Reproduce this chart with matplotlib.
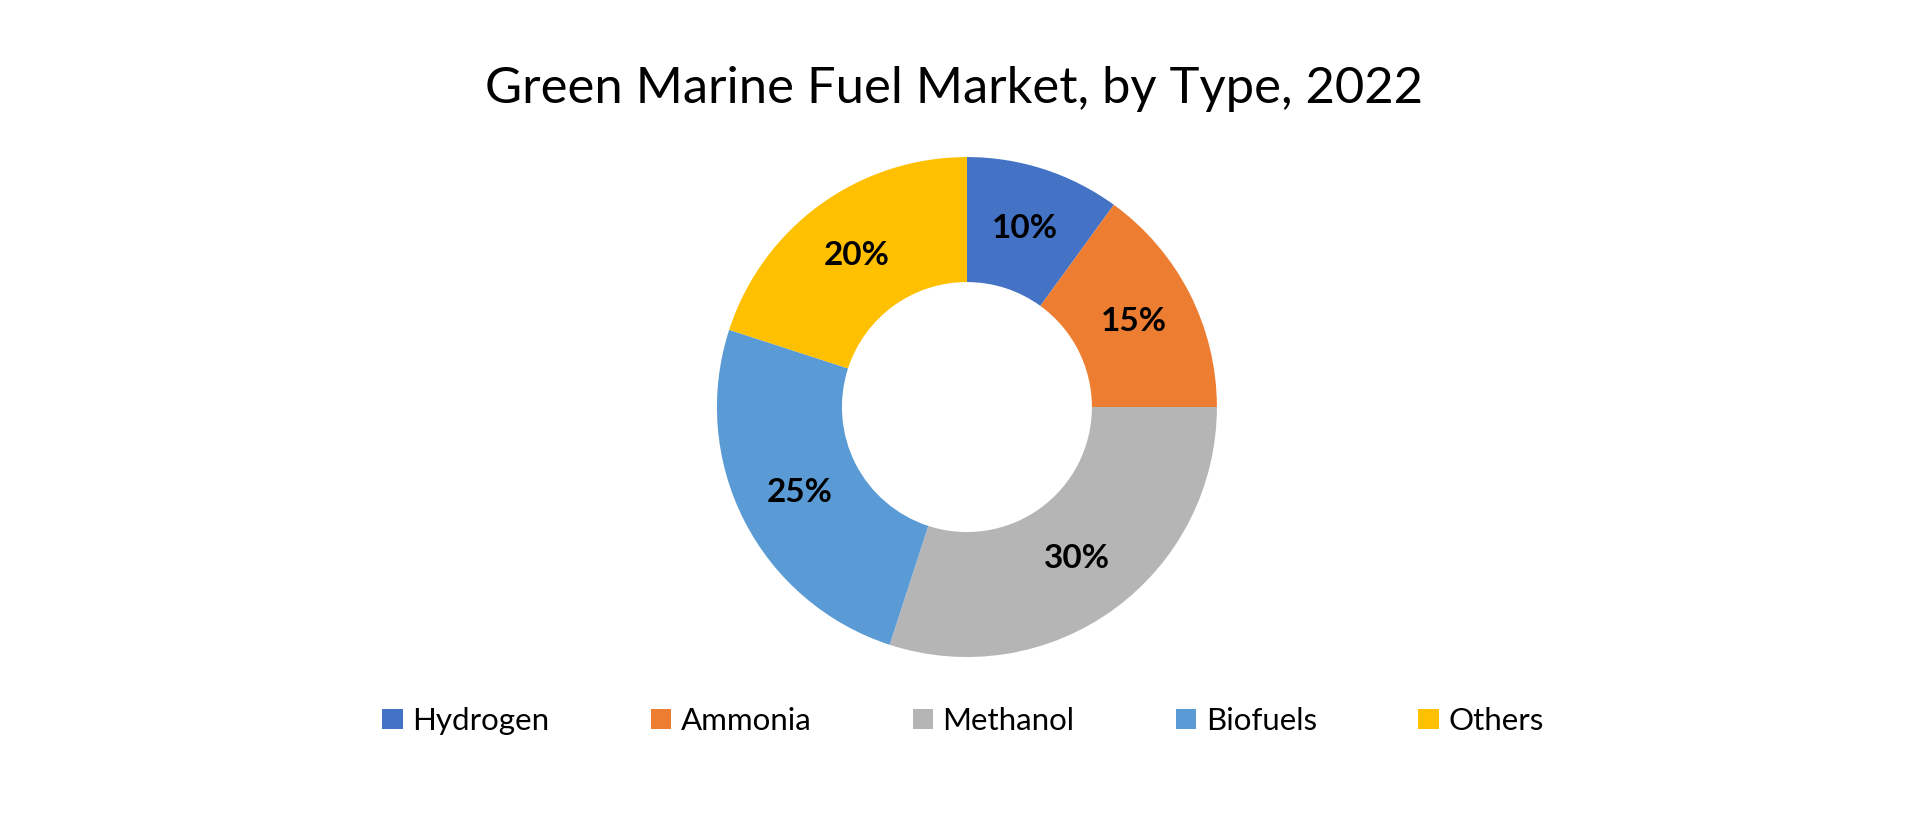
import matplotlib
matplotlib.use('Agg')
import matplotlib.pyplot as plt

types = ['Hydrogen', 'Ammonia', 'Methanol', 'Biofuels', 'Others']
shares = [10, 15, 30, 25, 20]
colors = ['#4472C4', '#ED7D31', '#B5B5B5', '#5B9BD5', '#FFC000']

plt.rcParams['font.family'] = ['Lato', 'DejaVu Sans']

fig = plt.figure(figsize=(19.2, 8.18), dpi=100)
ax = fig.add_axes([0.3734, 0.1968, 0.2604, 0.6112])

wedges, texts, autotexts = ax.pie(
    shares, colors=colors, startangle=90, counterclock=False,
    radius=1.0, autopct='%1.0f%%', pctdistance=0.75,
    wedgeprops=dict(width=0.5, edgecolor='none'),
    textprops=dict(fontsize=24, fontweight='bold', color='black'))
ax.set_xlim(-1, 1)
ax.set_ylim(-1, 1)
ax.set_aspect('equal')
ax.axis('off')

fig.text(0.497, 0.874, 'Green Marine Fuel Market, by Type, 2022',
         ha='center', va='baseline', fontsize=36.5, color='black')

fig.legend(wedges, types, loc='center', bbox_to_anchor=(0.5015, 0.1186),
           ncol=5, frameon=False, fontsize=22.5, handlelength=0.65,
           handleheight=0.65, handletextpad=0.3, columnspacing=3.25)

fig.savefig('out.png', dpi=100, facecolor='white')
